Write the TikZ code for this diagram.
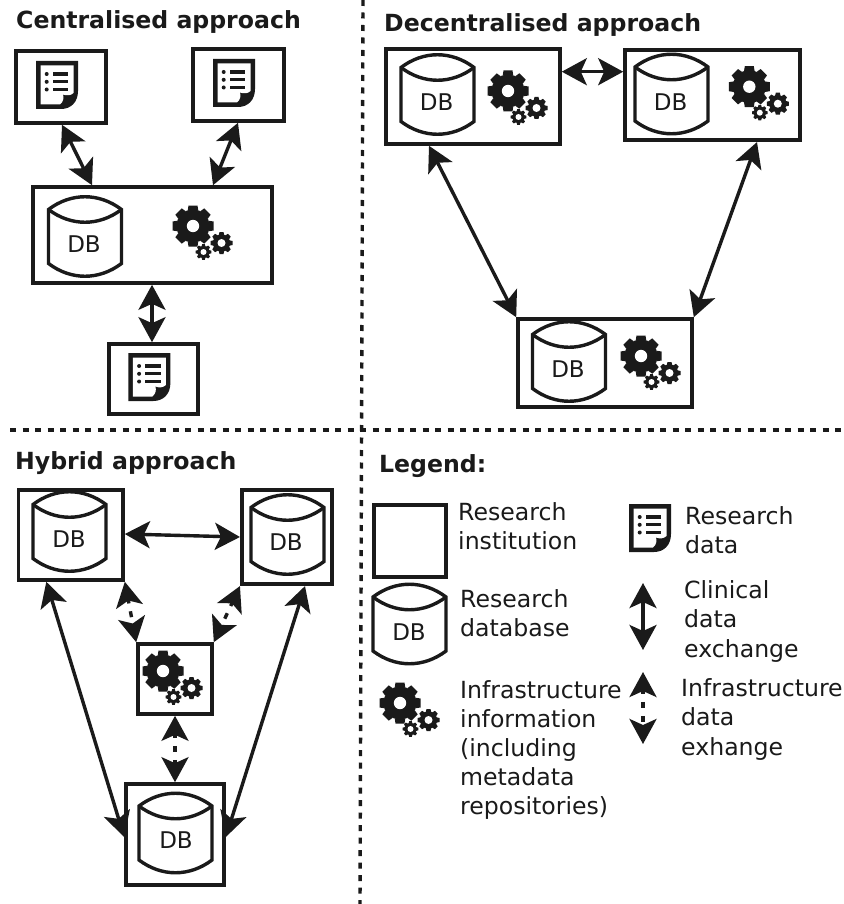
\documentclass[tikz,border=0pt]{standalone}
\usepackage{fontspec}
\setmainfont{DejaVu Sans}
\usetikzlibrary{arrows.meta}
\definecolor{ink}{HTML}{1A1A1A}
\tikzset{
  x=1pt,y=-1pt,
  inst/.style={draw=ink,line width=3.6pt,fill=none,inner sep=0pt,minimum width=#1},
  hd/.style={anchor=west,inner sep=0pt,text=ink,font=\fontsize{23.6}{28}\selectfont\bfseries},
  lab/.style={anchor=north west,inner sep=0pt,text=ink,align=left,font=\fontsize{23.6}{29.2}\selectfont},
  dbl/.style={text=ink,inner sep=0pt,font=\fontsize{23}{26}\selectfont},
  link/.style={draw=ink,line width=3.4pt,{Stealth[length=25pt,width=27pt,inset=6pt]}-{Stealth[length=25pt,width=27pt,inset=6pt]}},
  dlink/.style={link,dash pattern=on 6pt off 8pt,dash phase=2pt},
  divider/.style={draw=ink,line width=3.4pt,dash pattern=on 6pt off 6.5pt},
  pics/dbicon/.style={code={
    \draw[ink,line width=3.4pt,miter limit=4]
      (-36.5,-28) .. controls (-14,-45) and (14,-45) .. (36.5,-28)
      -- (36.5,26) .. controls (14,43) and (-14,43) .. (-36.5,26) -- cycle;
    \draw[ink,line width=3.4pt] (-36.5,-28) .. controls (-14,-11) and (14,-11) .. (36.5,-28);
  }},
  pics/docicon/.style={code={
    \fill[ink] (-21,-24) -- (21,-24) -- (21,6) .. controls (21,17) and (14,24) .. (4,24) -- (-21,24) -- cycle;
    \fill[white] (-16.5,-19.5) -- (16.5,-19.5) -- (16.5,8) .. controls (14,10.5) and (10,11) .. (6,9.5)
      .. controls (7,13) and (6.5,16.5) .. (3,19.5) -- (-16.5,19.5) -- cycle;
    \foreach \yy in {-11,-3.2,4.5}{
      \fill[ink] (-10.3,\yy) circle (2);
      \fill[ink] (-4.5,\yy-1.6) rectangle (11.3,\yy+1.6);
    }
  }},
  pics/gearicon/.style={code={
    \gearshape{0}{0}{16.5}{20.5}{6.2}{8}{9}{0}
    \gearshape{28.5}{17}{8.6}{11}{4}{8}{4}{0}
    \gearshape{10.5}{26}{6}{7.8}{3}{8}{2.6}{0}
  }},
}
% cx cy body outer hole teeth toothwidth start
\newcommand{\gearshape}[8]{%
  \begin{scope}[shift={(#1,#2)}]
    \fill[ink] (0,0) circle (#3);
    \foreach \kk in {1,...,#6}{
      \fill[ink,rotate=#8+\kk*360/#6] (-#7/2-0.8,#3-1) -- (-#7/2,#4) -- (#7/2,#4) -- (#7/2+0.8,#3-1) -- cycle;
    }
    \fill[white] (0,0) circle (#5);
  \end{scope}%
}
\begin{document}
\begin{tikzpicture}
\useasboundingbox (0,0) rectangle (843,904);
\fill[white] (0,0) rectangle (843,904);

% dividers
\coordinate (vtop) at (363,0);
\coordinate (vbot) at (360,904);
\coordinate (hl) at (10,430);
\coordinate (hr) at (843,430);
\draw[divider] (vtop) -- (vbot);
\draw[divider] (hl) -- (hr);

% headings
\node[hd] (hcen) at (16,22) {Centralised approach};
\node[hd] (hdec) at (384,24.5) {Decentralised approach};
\node[hd] (hhyb) at (15,463.5) {Hybrid approach};
\node[hd] (hleg) at (379,466) {Legend:};

% centralised
\node[inst=90pt,minimum height=72pt] (ca) at (61,87) {};
\node[inst=91pt,minimum height=72pt] (cb) at (238.5,85) {};
\node[inst=239pt,minimum height=96pt] (cm) at (152.5,235) {};
\node[inst=89pt,minimum height=70pt] (cc) at (153.5,379) {};
\pic at (57,85) {docicon};
\pic at (234,83) {docicon};
\pic at (149.4,377) {docicon};
\pic at (85,237.5) {dbicon};
\node[dbl] (cdb) at (84,244) {DB};
\pic at (193,226) {gearicon};
\draw[link] ([xshift=1pt]ca.south) -- ([xshift=-60.5pt]cm.north);
\draw[link] ([xshift=-0.5pt]cb.south) -- ([xshift=60.5pt]cm.north);
\draw[link] ([xshift=-1.5pt]cc.north) -- ([xshift=-0.5pt]cm.south);

% decentralised
\node[inst=174pt,minimum height=95pt] (da) at (473,96.5) {};
\node[inst=175pt,minimum height=90.5pt] (db) at (712.5,95) {};
\node[inst=174pt,minimum height=88pt] (dc) at (605,363) {};
\pic at (437.5,95.5) {dbicon};
\node[dbl] (ddba) at (436.7,102) {DB};
\pic at (671.5,95) {dbicon};
\node[dbl] (ddbb) at (670.7,102) {DB};
\pic at (569,362.5) {dbicon};
\node[dbl] (ddbc) at (568,369) {DB};
\pic at (508,91) {gearicon};
\pic at (749.3,86.7) {gearicon};
\pic at (641,356) {gearicon};
\draw[link] ([yshift=24.8pt]da.east) -- ([yshift=23.3pt]db.west);
\draw[link] ([xshift=-44pt]da.south) -- (dc.north west);
\draw[link] ([xshift=44.5pt]db.south) -- (dc.north east);

% hybrid
\node[inst=104.5pt,minimum height=90pt] (ha) at (70.8,535) {};
\node[inst=90.5pt,minimum height=94.5pt] (hb) at (287,537) {};
\node[inst=74pt,minimum height=70pt] (hm) at (175,679) {};
\node[inst=98pt,minimum height=101pt] (hc) at (175,834.5) {};
\pic at (69.5,532.5) {dbicon};
\node[dbl] (hdba) at (69,539) {DB};
\pic at (287.5,535.5) {dbicon};
\node[dbl] (hdbb) at (286,542) {DB};
\pic at (175.5,834) {dbicon};
\node[dbl] (hdbc) at (176,840) {DB};
\pic at (163,671) {gearicon};
\draw[link] ([yshift=1pt]ha.east) -- (hb.west);
\draw[link] ([xshift=-24.5pt]ha.south) -- ([yshift=-2.5pt]hc.west);
\draw[link] ([xshift=18pt]hb.south) -- ([yshift=-2.5pt]hc.east);
\draw[dlink] (ha.south east) -- (hm.north west);
\draw[dlink] (hb.south west) -- (hm.north east);
\draw[dlink] (hm.south) -- (hc.north);

% legend
\node[inst=72pt,minimum height=72pt] (lbox) at (410,541) {};
\node[lab] (lt1) at (458,502.5) {Research\\institution};
\pic at (409.5,625) {dbicon};
\node[dbl] (ldb) at (409,632) {DB};
\node[lab] (lt2) at (460,589.5) {Research\\database};
\pic at (400,703) {gearicon};
\node[lab] (lt3) at (460,680) {Infrastructure\\information\\(including\\metadata\\repositories)};
\pic at (650,528) {docicon};
\node[lab] (lt4) at (685,506) {Research\\data};
\coordinate (la) at (643,583);
\coordinate (lb) at (643,650);
\draw[link] (la) -- (lb);
\node[lab] (lt5) at (684,580.5) {Clinical\\data\\exchange};
\coordinate (lc) at (643,672);
\coordinate (ld) at (643,744);
\draw[dlink] (lc) -- (ld);
\node[lab] (lt6) at (681,678.5) {Infrastructure\\data\\exhange};
\end{tikzpicture}
\end{document}
